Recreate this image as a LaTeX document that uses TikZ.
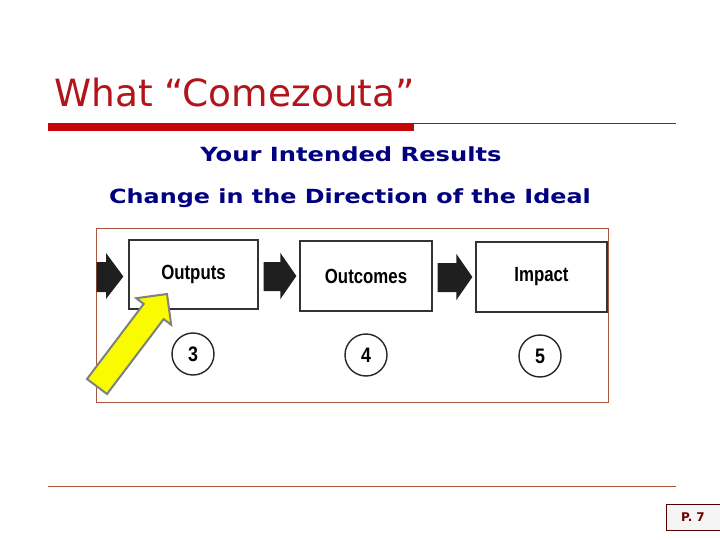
\documentclass[tikz,border=0pt]{standalone}
\usepackage{fontspec}
\setmainfont{DejaVu Sans}
\newfontfamily\boxfont{Liberation Sans}
\usetikzlibrary{calc}

\definecolor{titlered}{RGB}{178,20,26}
\definecolor{barred}{RGB}{196,8,8}
\definecolor{navytext}{RGB}{0,0,128}
\definecolor{framebrown}{RGB}{170,86,60}
\definecolor{arrowyellow}{RGB}{250,250,0}

\tikzset{
  stage/.style={draw=black!80, line width=1.2pt, inner sep=0pt,
    font=\boxfont\bfseries\fontsize{20.5}{20}\selectfont},
  num/.style={circle, draw=black!85, line width=1.4pt, minimum size=42pt, inner sep=0pt,
    font=\boxfont\bfseries\fontsize{21}{21}\selectfont},
  subhead/.style={anchor=base, inner sep=0pt, text=navytext, font=\bfseries\fontsize{19.5}{22}\selectfont},
  blockarrow/.style={fill=black!88},
}

\begin{document}
\begin{tikzpicture}[x=1pt,y=-1pt]
\useasboundingbox[fill=white] (0,0) rectangle (720,540);

% heading
\node[anchor=base west, inner sep=0pt, text=titlered, font=\fontsize{37.5}{40}\selectfont] (title) at (54,107) {What “Comezouta”};
\fill[barred] (48,123) rectangle (414,131);
\draw[barred, line width=0.8pt] (414,123.5) -- (676,123.5);

\node[subhead] (sub1) at (351,162) {\scalebox{1.24}[1]{Your Intended Results}};
\node[subhead] (sub2) at (350,204) {\scalebox{1.225}[1]{Change in the Direction of the Ideal}};

% scanned chart
\draw[framebrown, line width=0.8pt] (96,228) rectangle (608,402);

\node[stage, minimum width=129pt, minimum height=69pt] (out) at (193.5,274.5) {\scalebox{0.82}[1]{Outputs}};
\node[stage, minimum width=132pt, minimum height=70pt] (outc) at (366,276) {\scalebox{0.82}[1]{Outcomes}};
\node[stage, minimum width=131pt, minimum height=70pt] (imp) at (541.5,277) {\scalebox{0.82}[1]{Impact}};

\node[num] (c3) at (193,354) {\scalebox{0.85}[1]{3}};
\node[num] (c4) at (366,355) {\scalebox{0.85}[1]{4}};
\node[num] (c5) at (540,356) {\scalebox{0.85}[1]{5}};

% block arrows
\fill[blockarrow] (96.5,262) -- (106,262) -- (106,253) -- ($(out.west)+(-5,2)$) -- (106,299) -- (106,292) -- (96.5,292) -- cycle;
\foreach \a/\b in {out/outc,outc/imp}
  \fill[blockarrow] ($(\a.east |- \b.west)+(5,-14)$) -- ($(\b.west)+(-19,-14)$) -- ($(\b.west)+(-19,-23)$)
    -- ($(\b.west)+(-3,0)$) -- ($(\b.west)+(-19,23)$) -- ($(\b.west)+(-19,15)$) -- ($(\a.east |- \b.west)+(5,15)$) -- cycle;

% yellow pointer
\draw[fill=arrowyellow, draw=black!50, line width=2pt, line join=miter]
  (107,394) -- (163.7,319.1) -- (171.2,324.8) -- (167,294) -- (136.2,298.2) -- (143.7,303.9) -- (87,379) -- cycle;

% footer
\draw[framebrown, line width=0.8pt] (48,486) -- (676,486);
\node[draw=black!50!red!70!black, fill=black!4, line width=0.8pt, minimum width=54pt, minimum height=26pt, inner sep=0pt,
  text=black!45!red!80!black, font=\bfseries\fontsize{12}{12}\selectfont] (page) at (693,517) {P. 7};
\end{tikzpicture}
\end{document}
